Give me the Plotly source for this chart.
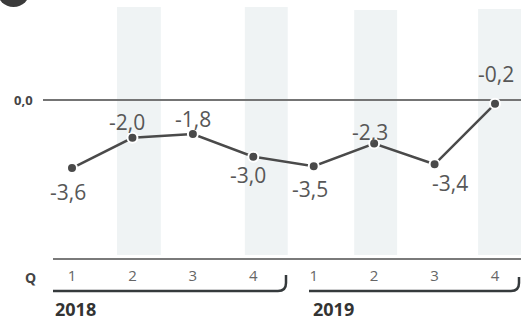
import plotly.graph_objects as go

# Quarterly values, two years
years = ["2018", "2019"]
quarters = ["1", "2", "3", "4", "1", "2", "3", "4"]
values = [-3.6, -2.0, -1.8, -3.0, -3.5, -2.3, -3.4, -0.2]
zero_label = "0,0"
axis_title = "Q"

W, H = 521, 322
ML, MR, MT, MB = 53, 0, 0, 64
PW, PH = W - ML - MR, H - MT - MB


def px(x):
    """pixel column -> paper x"""
    return (x - ML) / PW


def py(y):
    """pixel row -> paper y"""
    return 1 - (y - MT) / PH


def fmt(v):
    return f"{v:.1f}".replace(".", ",")


xs = list(range(len(values)))

# label offsets (pixels) relative to each point
label_dx = [-4, -5, 0, -5, -4, -4, 15, 1]
label_dy = [-24, 16, 15, -18, -23, 11, -19, 30]

fig = go.Figure()

# shaded bands behind every second quarter: (x0, x1, top pixel row)
bands = [(0.745, 1.47, 7), (2.86, 3.57, 7), (4.67, 5.38, 10), (6.72, 7.43, 9)]
shapes = []
for x0, x1, top in bands:
    shapes.append(dict(type="rect", xref="x", yref="paper", x0=x0, x1=x1,
                       y0=py(255), y1=py(top), fillcolor="#eff3f4",
                       line=dict(width=0), layer="below"))

# zero reference line
shapes.append(dict(type="line", xref="paper", yref="y", x0=px(43), x1=px(521),
                   y0=0, y1=0, line=dict(color="#747474", width=2), layer="below"))

# year brackets under the quarter labels
shapes.append(dict(type="path", xref="paper", yref="paper",
                   path=(f"M {px(53)},{py(291)} L {px(278)},{py(291)} "
                         f"Q {px(286)},{py(291)} {px(286)},{py(283)} L {px(286)},{py(275)}"),
                   line=dict(color="#353a3c", width=2.5)))
shapes.append(dict(type="path", xref="paper", yref="paper",
                   path=(f"M {px(309)},{py(291)} L {px(511)},{py(291)} "
                         f"Q {px(519)},{py(291)} {px(519)},{py(283)} L {px(519)},{py(277)}"),
                   line=dict(color="#353a3c", width=2.5)))

# badge circle in the corner
shapes.append(dict(type="circle", xref="paper", yref="paper",
                   x0=px(-3), x1=px(30), y0=py(7), y1=py(-26),
                   fillcolor="#3b3b3b", line=dict(width=0)))

fig.add_trace(go.Scatter(
    x=xs, y=values, mode="lines+markers",
    line=dict(color="#4a4a4a", width=2.5),
    marker=dict(size=10, color="#4a4a4a", line=dict(color="white", width=2)),
    cliponaxis=False, hoverinfo="skip", showlegend=False,
))

annotations = []
for x, v, dx, dy in zip(xs, values, label_dx, label_dy):
    annotations.append(dict(x=x, y=v, xref="x", yref="y", text=fmt(v),
                            showarrow=False, xshift=dx, yshift=dy,
                            xanchor="center", yanchor="middle",
                            font=dict(family="Open Sans", size=21, color="#575757")))

annotations.append(dict(x=px(23), y=0, xref="paper", yref="y", text=f"<b>{zero_label}</b>",
                        showarrow=False, xanchor="center", yanchor="middle",
                        font=dict(family="Open Sans", size=13, color="#444")))
annotations.append(dict(x=px(30), y=py(277), xref="paper", yref="paper",
                        text=f"<b>{axis_title}</b>", showarrow=False,
                        xanchor="center", yanchor="middle",
                        font=dict(family="Open Sans", size=14, color="#444")))
for yr, left in zip(years, [53, 311]):
    annotations.append(dict(x=px(left), y=py(309), xref="paper", yref="paper",
                            text=f"<b>{yr}</b>", showarrow=False,
                            xanchor="left", yanchor="middle",
                            font=dict(family="Open Sans", size=18, color="#333")))

fig.update_layout(
    width=W, height=H,
    margin=dict(l=ML, r=MR, t=MT, b=MB),
    paper_bgcolor="white", plot_bgcolor="white",
    shapes=shapes, annotations=annotations,
    xaxis=dict(range=[-0.3144, 7.430], tickvals=xs, ticktext=quarters,
               showline=True, linecolor="#7a7a7a", linewidth=2,
               showgrid=False, zeroline=False, ticks="",
               ticklabelstandoff=3,
               tickfont=dict(family="Open Sans", size=15, color="#666"),
               fixedrange=True),
    yaxis=dict(range=[-8.360, 5.291], visible=False, fixedrange=True),
    font=dict(family="Open Sans"),
)

fig.write_html("out.html", config={"displayModeBar": False})
